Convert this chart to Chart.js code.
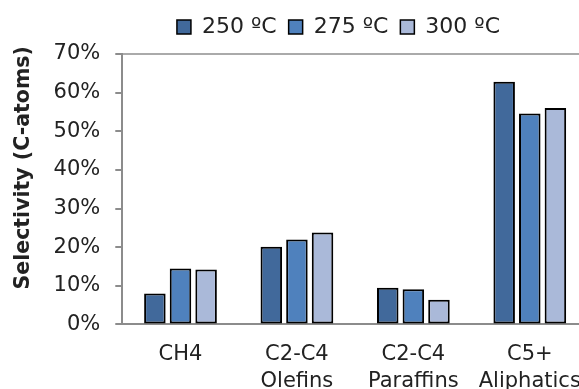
<!DOCTYPE html>
<html>
<head>
<meta charset="utf-8">
<script src="https://cdn.jsdelivr.net/npm/chart.js@4.4.1/dist/chart.umd.min.js"></script>
<style>
  html, body { margin: 0; padding: 0; background: #fff; overflow: hidden; }
  #wrap { width: 592px; height: 403px; }
</style>
</head>
<body>
<div id="wrap"><canvas id="chart"></canvas></div>
<script>
// chart data
const categories = ['CH4', ['C2-C4', 'Olefins'], ['C2-C4', 'Paraffins'], ['C5+', 'Aliphatics']];
const seriesNames = ['250 ºC', '275 ºC', '300 ºC'];
const sel250 = [0.080, 0.201, 0.095, 0.628];
const sel275 = [0.145, 0.220, 0.091, 0.546];
const sel300 = [0.142, 0.238, 0.064, 0.560];
const yTicks = [0, 0.1, 0.2, 0.3, 0.4, 0.5, 0.6, 0.7];

const colors = ['#41699b', '#4f81bd', '#aab9d9'];
const font = 'DejaVu Sans';

// legend tweaks: a bit more room below it, and sit it right of centre like the original
const legendTweak = {
    id: 'legendTweak',
    beforeInit: function(chart) {
        const origFit = chart.legend.fit;
        chart.legend.fit = function() {
            origFit.bind(chart.legend)();
            this.height += 6;
        };
    },
    afterLayout: function(chart) {
        chart.legend.left += 39;
        chart.legend.right += 39;
    }
};

const ctx = document.getElementById('chart').getContext('2d');
new Chart(ctx, {
    type: 'bar',
    data: {
        labels: categories,
        datasets: [sel250, sel275, sel300].map(function(vals, i) {
            return {
                label: seriesNames[i],
                data: vals,
                backgroundColor: colors[i],
                borderColor: '#000',
                borderWidth: 2,
                borderSkipped: false,
                categoryPercentage: 0.66,
                barPercentage: 0.84
            };
        })
    },
    plugins: [legendTweak],
    options: {
        responsive: true,
        maintainAspectRatio: false,
        animation: false,
        layout: { padding: { left: 11, right: 4, top: 4, bottom: 0 } },
        plugins: {
            tooltip: { enabled: false },
            legend: {
                position: 'top',
                labels: {
                    color: '#222',
                    font: { family: font, size: 22 },
                    boxWidth: 14,
                    boxHeight: 14,
                    padding: 12,
                    generateLabels: function(chart) {
                        return chart.data.datasets.map(function(ds, i) {
                            return {
                                text: ds.label,
                                fillStyle: ds.backgroundColor,
                                strokeStyle: '#000',
                                lineWidth: 1.5,
                                datasetIndex: i,
                                fontColor: '#222'
                            };
                        });
                    }
                }
            }
        },
        scales: {
            x: {
                grid: { display: false },
                border: { color: '#8c8c8c', width: 2 },
                ticks: {
                    color: '#222',
                    font: { family: font, size: 21, lineHeight: 1.3 },
                    padding: 8,
                    maxRotation: 0
                }
            },
            y: {
                min: 0,
                max: 0.7,
                afterBuildTicks: function(axis) {
                    axis.ticks = yTicks.map(function(v) { return { value: v }; });
                },
                grid: {
                    color: function(c) {
                        return c.tick && Math.abs(c.tick.value - 0.7) < 1e-6 ? '#aaaaaa' : 'rgba(0,0,0,0)';
                    },
                    lineWidth: 2,
                    tickColor: '#8c8c8c',
                    tickLength: 7,
                    drawTicks: true
                },
                border: { color: '#8c8c8c', width: 2 },
                ticks: {
                    color: '#222',
                    font: { family: font, size: 21 },
                    padding: 15,
                    callback: function(v) { return Math.round(v * 100) + '%'; }
                },
                title: {
                    display: true,
                    // leading spaces nudge the rotated title up like the original
                    text: '      Selectivity (C-atoms)',
                    color: '#222',
                    font: { family: font, size: 20.5, weight: 'bold' },
                    padding: { top: 0, bottom: 3 }
                }
            }
        }
    }
});
</script>
</body>
</html>
